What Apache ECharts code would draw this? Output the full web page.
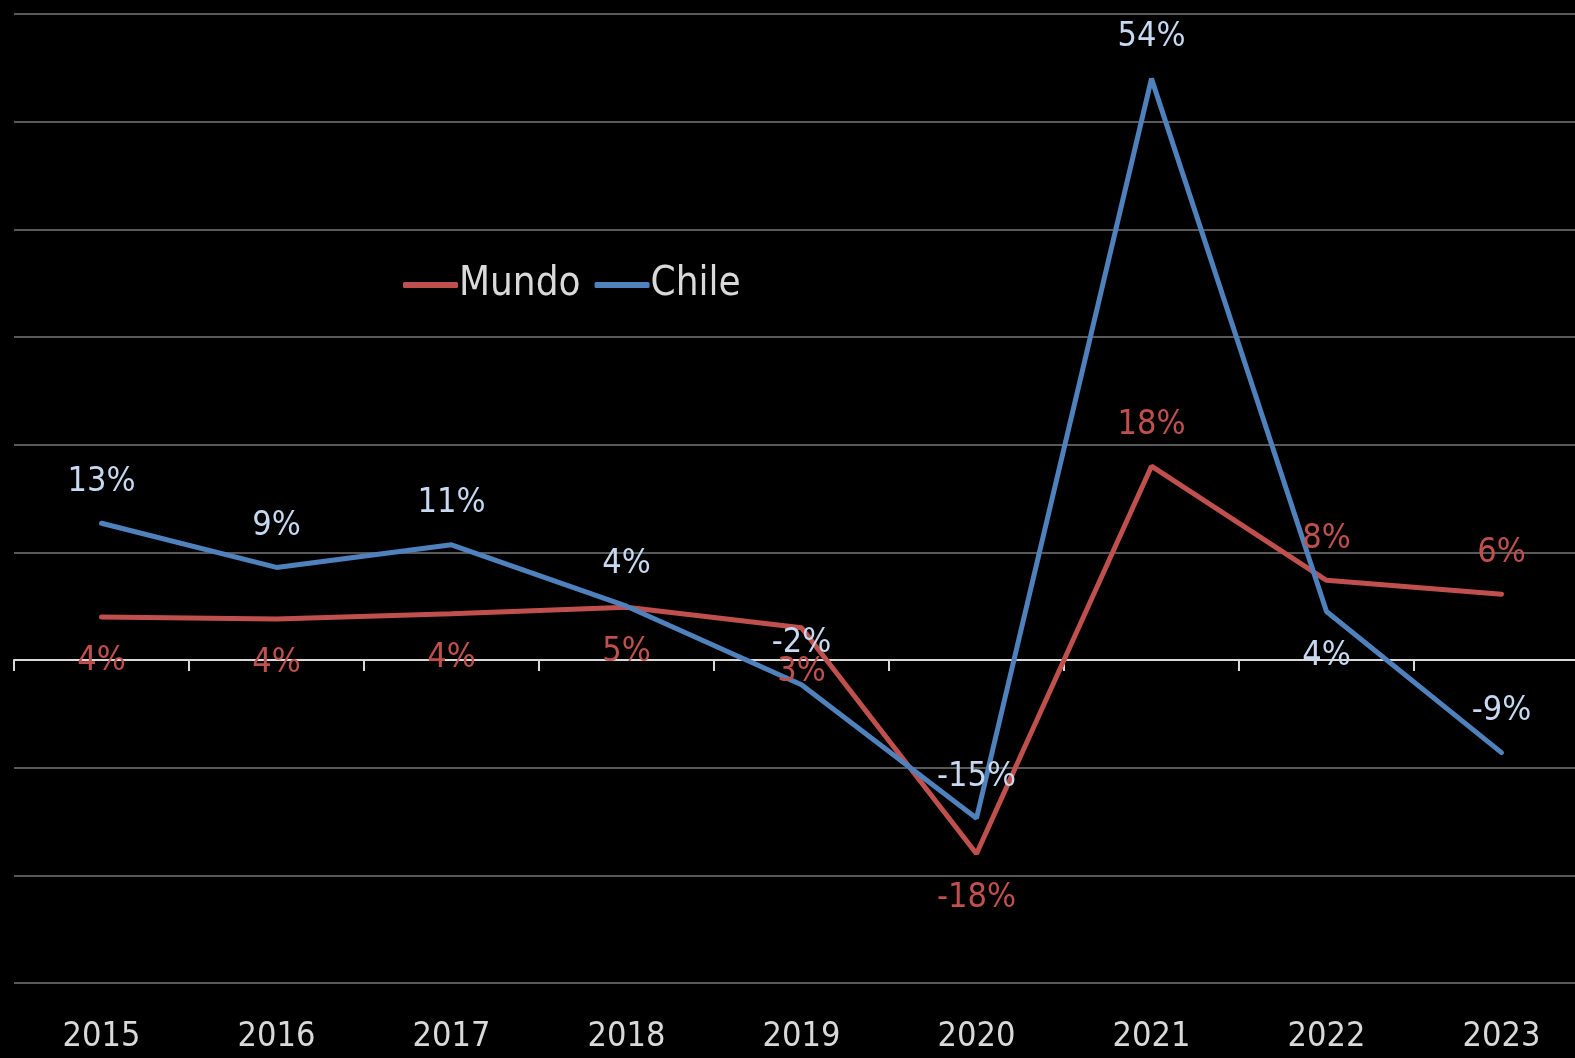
<!DOCTYPE html>
<html>
<head>
<meta charset="utf-8">
<script src="https://cdn.jsdelivr.net/npm/echarts@6/dist/echarts.min.js"></script>
<style>
  html, body { margin: 0; padding: 0; background: #000; }
  #chart { width: 1575px; height: 1058px; }
</style>
</head>
<body>
<div id="chart"></div>
<script>
const years = ['2015', '2016', '2017', '2018', '2019', '2020', '2021', '2022', '2023']
const mundo = [4.0, 3.8, 4.3, 4.9, 3.0, -18.0, 18.0, 7.4, 6.1]
const chile = [12.7, 8.6, 10.7, 5.0, -2.3, -14.7, 54.0, 4.5, -8.6]
const mundoLabels = ['4%', '4%', '4%', '5%', '3%', '-18%', '18%', '8%', '6%']
const chileLabels = ['13%', '9%', '11%', '4%', '-2%', '-15%', '54%', '4%', '-9%']
// where each data label sits relative to its point
const mundoLabelPos = ['bottom', 'bottom', 'bottom', 'bottom', 'bottom', 'bottom', 'top', 'top', 'top']
const chileLabelPos = ['top', 'top', 'top', 'top', 'top', 'top', 'top', 'bottom', 'top']

const FONT = "'DejaVu Sans Condensed', 'Liberation Sans Narrow', sans-serif"
const RED = '#C0504D'
const BLUE = '#4F81BD'

function points(values, texts, pos, color) {
  return values.map((v, i) => ({
    value: v,
    label: {
      show: true,
      position: pos[i],
      distance: pos[i] === 'top' ? 24 : 27,
      formatter: texts[i],
      color: color,
      fontSize: 34,
      fontFamily: FONT
    }
  }))
}

const chart = echarts.init(document.getElementById('chart'))

chart.setOption({
  backgroundColor: '#000',
  animation: false,
  grid: { left: 14, width: 1575, top: 14, height: 969, outerBoundsMode: 'none', containLabel: false },
  legend: {
    left: 403,
    top: 265,
    padding: 0,
    itemGap: 14,
    itemWidth: 55,
    itemHeight: 6,
    icon: 'roundRect',
    data: ['Mundo', 'Chile'],
    textStyle: { color: '#D9D9D9', fontSize: 40, fontFamily: FONT, padding: [0, 0, 0, -4] }
  },
  xAxis: [
    {
      type: 'category',
      data: years,
      axisLine: { onZero: true, lineStyle: { color: '#D9D9D9', width: 2 } },
      axisTick: { show: true, length: 11, lineStyle: { color: '#D9D9D9', width: 2 } },
      axisLabel: { show: false }
    },
    {
      type: 'category',
      data: years,
      position: 'bottom',
      axisLine: { show: false },
      axisTick: { show: false },
      axisLabel: { color: '#D9D9D9', fontSize: 34, fontFamily: FONT, margin: 37 }
    }
  ],
  yAxis: {
    type: 'value',
    min: -30,
    max: 60,
    interval: 10,
    axisLabel: { show: false },
    axisLine: { show: false },
    axisTick: { show: false },
    splitLine: { lineStyle: { color: '#595959', width: 2 } }
  },
  series: [
    {
      name: 'Mundo',
      type: 'line',
      xAxisIndex: 0,
      symbol: 'circle',
      symbolSize: 1,
      itemStyle: { color: RED },
      lineStyle: { color: RED, width: 5, cap: 'round' },
      data: points(mundo, mundoLabels, mundoLabelPos, RED)
    },
    {
      name: 'Chile',
      type: 'line',
      xAxisIndex: 0,
      symbol: 'circle',
      symbolSize: 1,
      itemStyle: { color: BLUE },
      lineStyle: { color: BLUE, width: 5, cap: 'round' },
      data: points(chile, chileLabels, chileLabelPos, '#C6D9F1')
    }
  ]
})
</script>
</body>
</html>
